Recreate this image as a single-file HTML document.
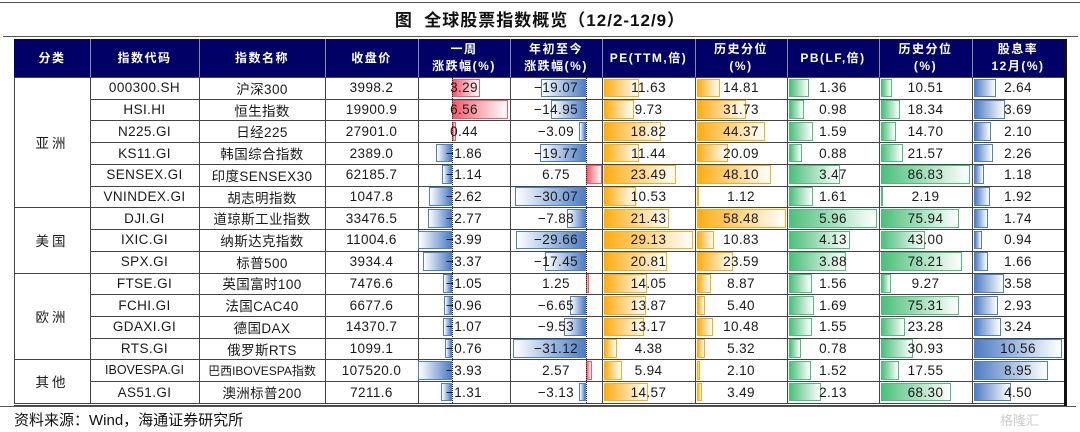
<!DOCTYPE html>
<html><head><meta charset="utf-8">
<style>
body{margin:0;background:#fff;}
#root{position:relative;width:1080px;height:432px;overflow:hidden;background:#fff;font-family:"Liberation Sans","Noto Sans CJK SC",sans-serif;}
.abs{position:absolute;}
.hl{position:absolute;height:1px;background:#444;}
.vl{position:absolute;width:1px;background:#444;}
.cell{position:absolute;display:flex;align-items:center;justify-content:center;font-size:13.5px;color:#1a1a1a;letter-spacing:0.4px;white-space:nowrap;z-index:3;}
.hd{position:absolute;display:flex;flex-direction:column;align-items:center;justify-content:center;color:#fff;font-weight:bold;font-size:12px;letter-spacing:1.5px;line-height:17px;text-align:center;}
.bar{position:absolute;box-sizing:border-box;z-index:2;}
</style></head><body>
<div id="root">
  <div class="abs" style="left:0;top:2px;width:1080px;height:1px;background:#555"></div>
  <div class="abs" style="left:0;top:6px;width:1080px;text-align:center;font-size:17px;font-weight:bold;color:#111;letter-spacing:1px;font-family:'Liberation Sans','Noto Sans CJK SC',sans-serif">图&nbsp;&nbsp;全球股票指数概览（12/2-12/9）</div>
  <div class="abs" style="left:3px;top:36px;width:1075px;height:1px;background:#555"></div>
  <div class="abs" style="left:0;top:406px;width:1076px;height:1px;background:#555"></div>
  <div class="abs" style="left:14px;top:409px;font-size:15px;color:#111">资料来源：Wind，海通证券研究所</div>
  <div class="abs" style="left:1000px;top:410px;font-size:13px;color:#ccc">格隆汇</div>
  <div id="tbl"></div>
</div>
<script>
const groups=["亚洲","美国","欧洲","其他"];
const groupSizes=[6,3,4,2];
const codes=["000300.SH","HSI.HI","N225.GI","KS11.GI","SENSEX.GI","VNINDEX.GI","DJI.GI","IXIC.GI","SPX.GI","FTSE.GI","FCHI.GI","GDAXI.GI","RTS.GI","IBOVESPA.GI","AS51.GI"];
const names=["沪深300","恒生指数","日经225","韩国综合指数","印度SENSEX30","胡志明指数","道琼斯工业指数","纳斯达克指数","标普500","英国富时100","法国CAC40","德国DAX","俄罗斯RTS","巴西IBOVESPA指数","澳洲标普200"];
const closes=["3998.2","19900.9","27901.0","2389.0","62185.7","1047.8","33476.5","11004.6","3934.4","7476.6","6677.6","14370.7","1099.1","107520.0","7211.6"];
const weekChg=[3.29,6.56,0.44,-1.86,-1.14,-2.62,-2.77,-3.99,-3.37,-1.05,-0.96,-1.07,-0.76,-3.93,-1.31];
const ytdChg=[-19.07,-14.95,-3.09,-19.77,6.75,-30.07,-7.88,-29.66,-17.45,1.25,-6.65,-9.53,-31.12,2.57,-3.13];
const pe=[11.63,9.73,18.82,11.44,23.49,10.53,21.43,29.13,20.81,14.05,13.87,13.17,4.38,5.94,14.57];
const peHist=[14.81,31.73,44.37,20.09,48.10,1.12,58.48,10.83,23.59,8.87,5.40,10.48,5.32,2.10,3.49];
const pb=[1.36,0.98,1.59,0.88,3.47,1.61,5.96,4.13,3.88,1.56,1.69,1.55,0.78,1.52,2.13];
const pbHist=[10.51,18.34,14.70,21.57,86.83,2.19,75.94,43.00,78.21,9.27,75.31,23.28,30.93,17.55,68.30];
const divYield=[2.64,3.69,2.10,2.26,1.18,1.92,1.74,0.94,1.66,3.58,2.93,3.24,10.56,8.95,4.50];
const headers=["分类","指数代码","指数名称","收盘价","一周<br>涨跌幅(%)","年初至今<br>涨跌幅(%)","PE(TTM,倍)","历史分位<br>(%)","PB(LF,倍)","历史分位<br>(%)","股息率<br>12月(%)"];

const colX=[14,90,199,325,418,510,602,695,787,879,972,1064];
const headTop=39, headBot=77, rowH=21.73;
const tbl=document.getElementById('tbl');
function mk(cls,st){const d=document.createElement('div');d.className=cls;Object.assign(d.style,st);tbl.appendChild(d);return d;}
function rowY(i){return headBot+i*rowH;}
const nRows=codes.length;
const tableBot=rowY(nRows);

const hbg=mk('abs',{left:colX[0]+'px',top:headTop+'px',width:(colX[11]-colX[0])+'px',height:(headBot-headTop)+'px',background:'#000066'});


headers.forEach((h,c)=>{
  const d=mk('hd',{left:colX[c]+'px',top:headTop+'px',width:(colX[c+1]-colX[c])+'px',height:(headBot-headTop)+'px'});
  d.innerHTML=h;
  
  
  if(c>0){mk('abs',{left:colX[c]+'px',top:headTop+'px',width:'1px',height:(headBot-headTop)+'px',background:'#8888aa'});}
});
for(let i=0;i<=nRows;i++){
  const y=rowY(i);
  let acc=0,isGroupEdge=false;
  for(const s of groupSizes){ if(acc===i) isGroupEdge=true; acc+=s;}
  if(i===nRows)isGroupEdge=true;
  const x0=isGroupEdge?colX[0]:colX[1];
  mk('hl',{left:x0+'px',top:Math.round(y)+'px',width:(colX[11]-x0)+'px'});
}
mk('hl',{left:colX[0]+'px',top:(Math.round(tableBot)+2)+'px',width:(colX[11]-colX[0])+'px'});
for(let c=0;c<=11;c++){
  mk('vl',{left:colX[c]+'px',top:headBot+'px',height:(tableBot-headBot)+'px'});
}
mk('abs',{left:(colX[11])+'px',top:headTop+'px',width:'3px',height:(tableBot-headTop+3)+'px',background:'#111'});
let acc=0;
groups.forEach((g,k)=>{
  const d=mk('cell',{left:colX[0]+'px',top:rowY(acc)+'px',width:(colX[1]-colX[0])+'px',height:(groupSizes[k]*rowH)+'px',letterSpacing:'3px'});
  d.textContent=g;
  
  
  acc+=groupSizes[k];
});
function txt(c,i,t,name,fs){
  const d=mk('cell',{left:colX[c]+'px',top:rowY(i)+'px',width:(colX[c+1]-colX[c])+'px',height:rowH+'px'});
  if(fs){d.style.fontSize=fs;d.style.letterSpacing='0';}
  d.textContent=t;
  
  
}
function bar(x,w,i,col,dir,name){
  if(w<1)w=1;
  const b=mk('bar',{left:x+'px',top:(rowY(i)+1.5)+'px',width:w+'px',height:(rowH-3)+'px',background:'linear-gradient(to '+dir+','+col+',#ffffff)',border:'1px solid '+col});
  
  
}
const RED='#f45a6c',BLUE='#4f7ec4',ORANGE='#ffad14',GREEN='#4cc07a';
const weekAxis=452, weekScale=8.6;
const ytdAxis=586, ytdScale=2.35;
function sx(scale){return v=>v*scale;}
const peW=sx(3.05), peHW=sx(1.53), pbW=sx(14.8), pbHW=sx(1.03), divW=sx(8.3);
for(let i=0;i<nRows;i++){
  txt(1,i,codes[i],'index-code',codes[i].length>10?'12.5px':null);
  txt(2,i,names[i],'index-name',names[i].length>10?'12px':null);
  txt(3,i,closes[i],'close-price');
  let v=weekChg[i];
  if(v>=0) bar(weekAxis,v*weekScale,i,RED,'right','bar-week');
  else bar(weekAxis+v*weekScale,-v*weekScale,i,BLUE,'left','bar-week');
  txt(4,i,v.toFixed(2).replace('-','−'),'week-change');
  v=ytdChg[i];
  if(v>=0) bar(ytdAxis,v*ytdScale,i,RED,'right','bar-ytd');
  else bar(ytdAxis+v*ytdScale,-v*ytdScale,i,BLUE,'left','bar-ytd');
  txt(5,i,v.toFixed(2).replace('-','−'),'ytd-change');
  bar(colX[6]+2,peW(pe[i]),i,ORANGE,'right','bar-pe'); txt(6,i,pe[i].toFixed(2),'pe-value');
  bar(colX[7]+2,peHW(peHist[i]),i,ORANGE,'right','bar-pe-hist'); txt(7,i,peHist[i].toFixed(2),'pe-percentile');
  bar(colX[8]+2,pbW(pb[i]),i,GREEN,'right','bar-pb'); txt(8,i,pb[i].toFixed(2),'pb-value');
  bar(colX[9]+2,pbHW(pbHist[i]),i,GREEN,'right','bar-pb-hist'); txt(9,i,pbHist[i].toFixed(2),'pb-percentile');
  bar(colX[10]+2,divW(divYield[i]),i,BLUE,'right','bar-dividend');
  txt(10,i,divYield[i].toFixed(2),'dividend-yield');
}
[weekAxis,ytdAxis].forEach(x=>{
  const a=mk('abs',{left:x+'px',top:headBot+'px',height:(tableBot-headBot)+'px',width:'0',borderLeft:'1px dotted #222',zIndex:4});
  
  
});
</script>
</body></html>
